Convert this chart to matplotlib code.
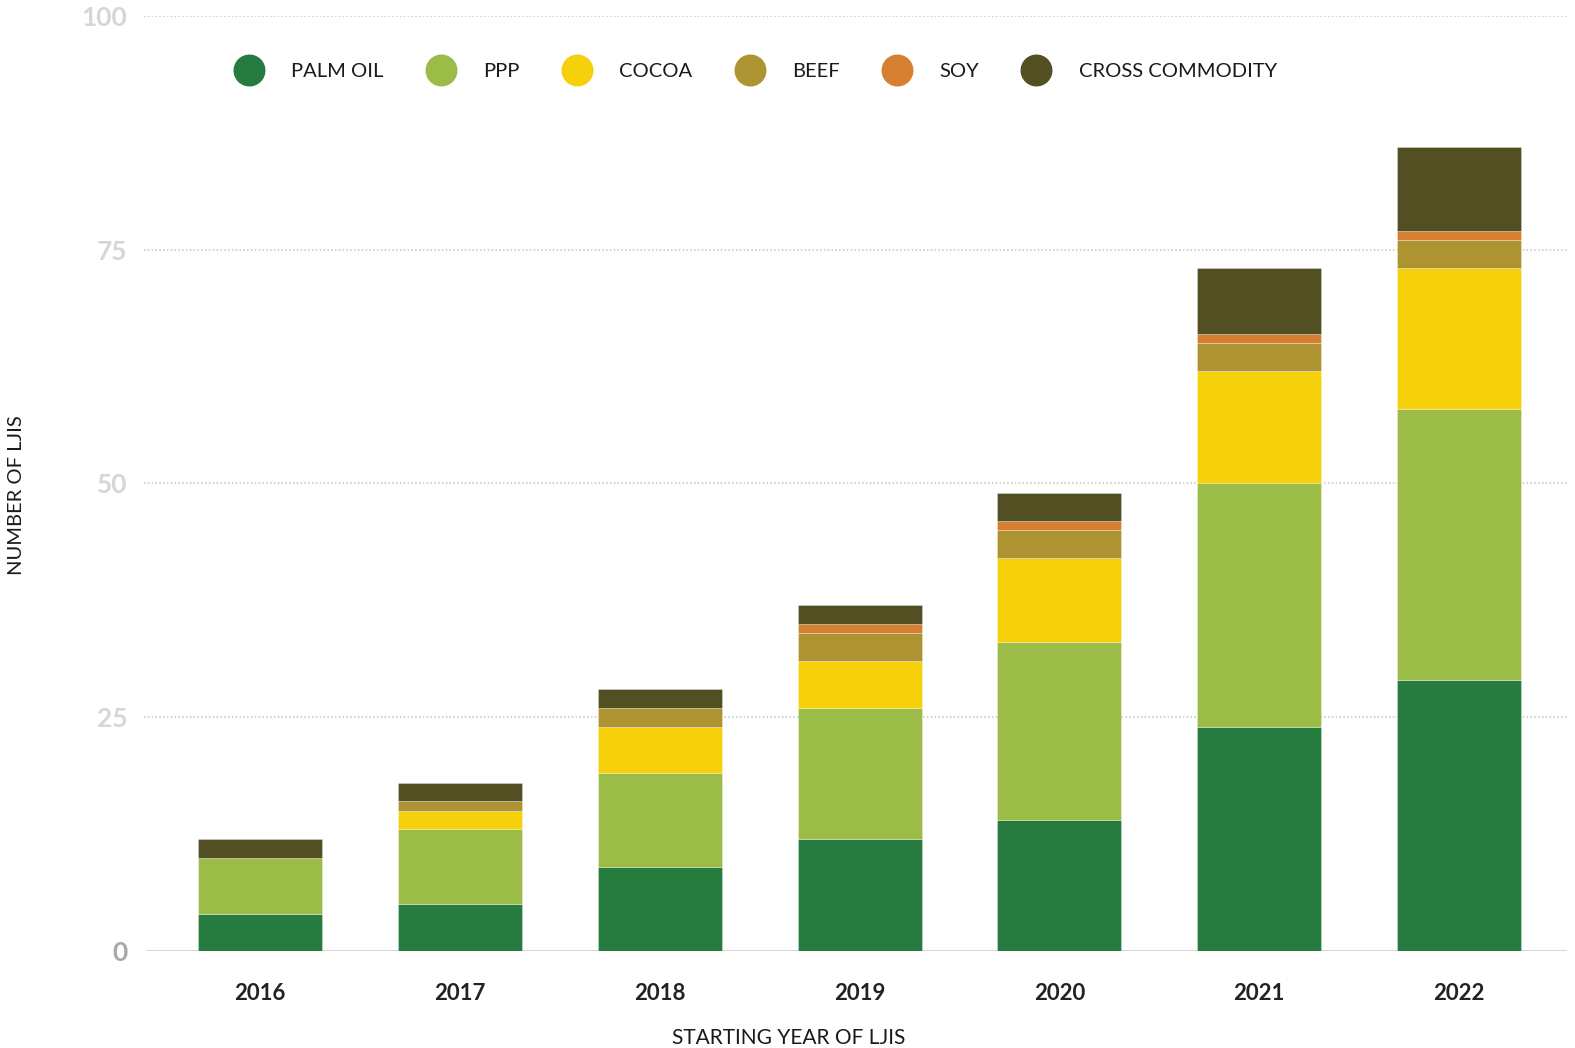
import matplotlib.pyplot as plt
from matplotlib.lines import Line2D
import numpy as np

plt.rcParams['font.family'] = ['Lato', 'DejaVu Sans']

# données
years = ['2016', '2017', '2018', '2019', '2020', '2021', '2022']
palm_oil = [4, 5, 9, 12, 14, 24, 29]
ppp = [6, 8, 10, 14, 19, 26, 29]
cocoa = [0, 2, 5, 5, 9, 12, 15]
beef = [0, 1, 2, 3, 3, 3, 3]
soy = [0, 0, 0, 1, 1, 1, 1]
cross_commodity = [2, 2, 2, 2, 3, 7, 9]

series_names = ['PALM OIL', 'PPP', 'COCOA', 'BEEF', 'SOY', 'CROSS COMMODITY']
series_colors = ['#257C3E', '#9BBD47', '#F6D00A', '#AD9332', '#D67F30', '#525023']
y_ticks = [0, 25, 50, 75, 100]

series = [palm_oil, ppp, cocoa, beef, soy, cross_commodity]

fig = plt.figure(figsize=(15.75, 10.48), dpi=100)
ax = fig.add_axes([0.0914, 0.0925, 0.9036, 0.8925])

x = np.arange(len(years))
bottom = np.zeros(len(years))
for values, color in zip(series, series_colors):
    vals = np.array(values, dtype=float)
    ax.bar(x, vals, width=0.62, bottom=bottom, color=color,
           edgecolor=(1, 1, 1, 0.35), linewidth=0.6, zorder=3)
    bottom += vals

# grille pointillée + ligne de base
for t in y_ticks[1:]:
    ax.axhline(t, color='#c4c4c4', linestyle=(0, (1, 1.5)), linewidth=1.1, zorder=1)
ax.axhline(0, color='#d2d2d2', linewidth=2, zorder=2, xmin=0.002)

ax.set_xlim(-0.58, 6.54)
ax.set_ylim(0, 100)
ax.set_yticks(y_ticks)
ax.set_yticklabels([str(t) for t in y_ticks], fontsize=19, fontweight='bold')
for lab in ax.get_yticklabels():
    lab.set_color('#d6d6d6')
ax.get_yticklabels()[0].set_color('#a8a8a8')

ax.set_xticks(x)
ax.set_xticklabels(years, fontsize=16, fontweight='bold', color='#222222')
ax.tick_params(axis='x', length=0, pad=23)
ax.tick_params(axis='y', length=0, pad=12)

for s in ax.spines.values():
    s.set_visible(False)

ax.set_ylabel('NUMBER OF LJIS', fontsize=14.5, color='#1a1a1a')
ax.yaxis.set_label_coords(-0.0836, 0.4876)
ax.set_xlabel('STARTING YEAR OF LJIS', fontsize=15, color='#1a1a1a', va='center')
ax.xaxis.set_label_coords(0.453, -0.0925)

handles = [Line2D([0], [0], marker='o', linestyle='none', markersize=22,
                  markerfacecolor=c, markeredgecolor=c) for c in series_colors]
leg = ax.legend(handles, series_names, ncol=6, loc='center left',
                bbox_to_anchor=(0.063, 0.9405), frameon=False, fontsize=14.5,
                handlelength=1.5, handletextpad=1.35, columnspacing=2.1,
                borderpad=0, borderaxespad=0)
for t in leg.get_texts():
    t.set_color('#1a1a1a')

fig.savefig('out.png', dpi=100)
